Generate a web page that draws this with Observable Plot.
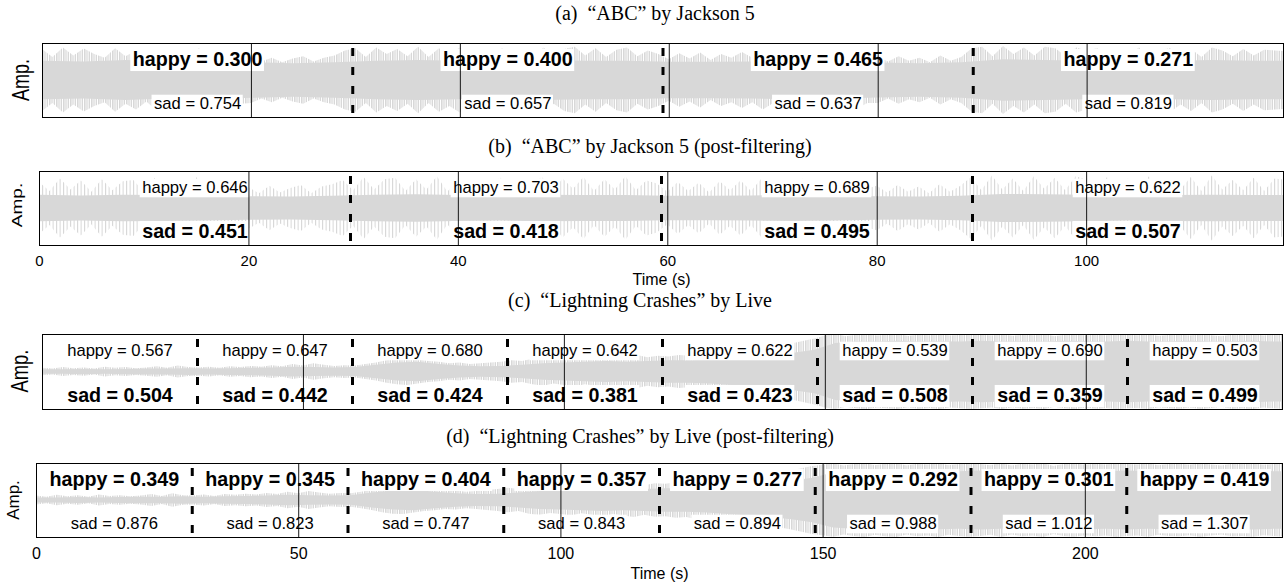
<!DOCTYPE html>
<html><head><meta charset="utf-8">
<script src="https://cdn.jsdelivr.net/npm/d3@7"></script>
<script src="https://cdn.jsdelivr.net/npm/@observablehq/plot@0.6"></script>
<style>
body{margin:0;background:#fff;}
#root{position:relative;width:1284px;height:582px;overflow:hidden;font-family:"Liberation Sans",Arial,sans-serif;background:#fff;}
.title{position:absolute;font-family:"Liberation Serif","Times New Roman",serif;font-size:20px;white-space:pre;line-height:1;transform:translate(-50%,-50%);color:#000;}
.amp{position:absolute;white-space:nowrap;line-height:1;color:#000;font-family:"Liberation Sans",Arial,sans-serif;}
.panel{position:absolute;left:0;}
#defs{position:absolute;left:0;top:0;width:0;height:0;}
</style></head><body>
<svg id="defs" width="0" height="0" aria-hidden="true">
  <defs>
    <pattern id="hatchDense" patternUnits="userSpaceOnUse" width="7" height="10">
      <rect x="0" y="0" width="1.6" height="10" fill="#d8d8d8"/>
      <rect x="2.4" y="0" width="1.2" height="10" fill="#d8d8d8"/>
      <rect x="4.6" y="0" width="1.4" height="10" fill="#d8d8d8"/>
    </pattern>
    <pattern id="hatchSparse" patternUnits="userSpaceOnUse" width="7" height="10">
      <rect x="0" y="0" width="1.2" height="10" fill="#d8d8d8"/>
      <rect x="3.6" y="0" width="1" height="10" fill="#d8d8d8"/>
    </pattern>
  </defs>
</svg>
<div id="root"></div>
<script>
// ---------- data ----------
const titles = [
  "(a)  \u201CABC\u201D by Jackson 5",
  "(b)  \u201CABC\u201D by Jackson 5 (post-filtering)",
  "(c)  \u201CLightning Crashes\u201D by Live",
  "(d)  \u201CLightning Crashes\u201D by Live (post-filtering)"
];
const abcDuration = 118.8;
const lcDuration = 237.6;
const abcBounds = [29.7, 59.4, 89.1];
const lcBounds = [29.7, 59.4, 89.1, 118.8, 148.5, 178.2, 207.9];
const abcTicks = [0, 20, 40, 60, 80, 100];
const lcTicks = [0, 50, 100, 150, 200];

const happyA = [0.300, 0.400, 0.465, 0.271];
const sadA   = [0.754, 0.657, 0.637, 0.819];
const happyB = [0.646, 0.703, 0.689, 0.622];
const sadB   = [0.451, 0.418, 0.495, 0.507];
const happyC = [0.567, 0.647, 0.680, 0.642, 0.622, 0.539, 0.690, 0.503];
const sadC   = [0.504, 0.442, 0.424, 0.381, 0.423, 0.508, 0.359, 0.499];
const happyD = [0.349, 0.345, 0.404, 0.357, 0.277, 0.292, 0.301, 0.419];
const sadD   = [0.876, 0.823, 0.747, 0.843, 0.894, 0.988, 1.012, 1.307];

// waveform envelopes (% of half-height), peaks every 1 s (ABC) / 2 s (LC), cores every 4 s
const peakA = [84,62,88,66,85,70,60,86,64, 80,58,84,66,82,60,86,68,58,84,64, 62,50,60,48,58,64,50,60,66,
  80,86,62,88,70, 84,64,90,62,86,70,88,60,84,62,86,70, 82,60,88,64,84,90,66,86,62,82,88,64,80,
  70,56,72,58,74,54,70,60, 76,60,80,62,78,64,82,66,60,80,64,78,62, 62,50,64,52,60,48,66,52,62,
  86,90,64,92,70,88,66,90,86,64,88, 80,86,64,84,66,88,62,82,86,66,84,62,88,80,64,84,66,82,80,78];
const coreA = [52,50,54,50,52,48,45,48,52,54,52,50,54,52,52,49,49,50,52,50,47,45,48,56,54,52,50,52,54,52,52];
const peakB = [70,46,80,50,74,44,78,48,72, 76,44,82,52,70,46,84,48,74,50,78, 56,40,60,42,54,62,40,58,64,
  76,48,84,50,78, 82,46,78,50,86,44,80,52,76,46,84,50, 78,48,86,44,80,52,84,46,78,50,86,48,74,
  66,44,70,46,68,42,72,48, 74,46,80,48,76,44,82,50,46,78,48,76,52, 60,42,62,44,58,40,64,44,60,
  84,48,88,50,80,46,86,52,82,48,86, 78,50,84,46,80,52,86,48,78,50,84,46,88,50,76,48,82,46,80,76];
const coreB = [36,34,36,35,34,32,31,33,36,37,35,34,36,35,35,33,33,34,35,34,32,31,33,38,37,36,34,35,36,35,35];
const peakC = [10,8,12,9,11,8,13,10,12,9,11,14,10,16,12, 11,13,10,14,12,15,13,17,14,20,16,22,18,15,17,
  16,20,24,30,34,36,32,28,26,22,24,20,22,24,26, 30,28,34,38,32,36,40,34,38,42,36,40,44,38,42,
  40,44,42,48,46,52,50,56,54,60,64,70,76,82,88, 96,100,94,98,100,96,98,100,95,99,97,100,96,98,100,
  98,96,100,95,99,97,100,94,98,100,96,99,97,100,98, 97,100,95,98,99,96,100,97,94,99,98,100,96,98,100];
const coreC = [6,6,7,6,7,8,8,9, 8,9,10,11,13,12,11,12, 18,24,26,20,16,14,15,18, 22,24,26,28,26,28,30,30,
  32,36,40,44,50,58,76,80, 80,82,80,81,80,82,80,81, 80,82,81,80,82,80,81,82, 80,81,82,80,80];
const peakD = [12,9,14,10,13,9,15,11,13,10,12,16,11,18,13, 12,15,11,16,14,17,15,19,16,22,18,24,20,17,19,
  18,22,27,33,37,38,34,30,28,24,26,22,24,27,30, 33,30,37,40,35,38,42,36,40,44,38,42,46,40,45,
  44,48,46,52,50,56,54,60,58,64,68,74,80,86,92, 95,99,93,97,100,94,98,100,93,98,96,100,94,97,99,
  97,94,100,93,98,96,100,92,97,99,95,98,96,100,97, 96,99,94,97,98,95,100,96,93,98,97,99,95,97,99];
const coreD = [7,7,8,7,8,9,9,10, 9,10,11,12,14,13,12,13, 20,26,28,22,18,16,17,20, 24,26,28,30,28,30,32,32,
  34,38,42,46,52,60,74,78, 78,80,78,79,78,80,78,79, 78,80,79,78,80,78,79,80, 78,79,80,78,78];

// ---------- drawing ----------
const W = 1284;
const fontBold = 19.7, fontNormal = 16.6;
const root = document.getElementById("root");
const ctx = document.createElement("canvas").getContext("2d");
function textWidth(s, bold, size) {
  ctx.font = `${bold ? "bold " : ""}${size}px "Liberation Sans"`;
  return ctx.measureText(s).width;
}

function makePanel(cfg) {
  const {top, marginLeft, marginRight, innerH, marginBottom, duration, bounds, grid, ticks, tickPadding, tickFont, timeDy,
         peak, peakStep, core, coreStep, happy, sad, boldKey, fringeFill, coreFill} = cfg;
  const marginTop = 10;
  const height = marginTop + innerH + marginBottom;
  const kx = (W - marginLeft - marginRight) / duration;
  const ky = innerH / 2;
  const peakData = peak.map((v, i) => ({t: i * peakStep, a: v / 100}));
  const coreData = core.map((v, i) => ({t: i * coreStep, a: v / 100}));
  const edges = [0, ...bounds, duration];
  const labels = [];
  happy.forEach((h, i) => {
    const cx = (edges[i] + edges[i + 1]) / 2;
    const hb = boldKey === "happy";
    labels.push({x: cx, y: 1 - 16 / ky, text: `happy = ${h.toFixed(3)}`, bold: hb});
    labels.push({x: cx, y: -1 + 14 / ky, text: `sad = ${sad[i].toFixed(3)}`, bold: !hb});
  });
  labels.forEach(d => {
    const size = d.bold ? fontBold : fontNormal;
    const w = textWidth(d.text, d.bold, size) + 4;
    const h = size * 1.12;
    const yc = d.y - 1 / ky;
    d.x1 = d.x - w / 2 / kx; d.x2 = d.x + w / 2 / kx;
    d.y1 = yc - h / 2 / ky; d.y2 = yc + h / 2 / ky;
  });
  const marks = [
    Plot.areaY(peakData, {x: "t", y1: d => -d.a, y2: d => d.a, fill: fringeFill, clip: true}),
    Plot.areaY(coreData, {x: "t", y1: d => -d.a, y2: d => d.a, fill: coreFill, clip: true}),
    Plot.rect(labels, {x1: "x1", x2: "x2", y1: "y1", y2: "y2", fill: "white"}),
    Plot.ruleX(grid, {x: d => d, stroke: "black", strokeWidth: 0.9}),
    Plot.ruleX(bounds, {x: d => d, stroke: "black", strokeWidth: 3, strokeDasharray: "8,11", strokeDashoffset: 14}),
    Plot.text(labels.filter(d => d.bold), {x: "x", y: "y", text: "text", fontWeight: "bold", fontSize: fontBold, fill: "black"}),
    Plot.text(labels.filter(d => !d.bold), {x: "x", y: "y", text: "text", fontSize: fontNormal, fill: "black"}),
    Plot.frame({stroke: "black", strokeWidth: 1})
  ];
  if (ticks) marks.push(Plot.text(["Time (s)"], {text: d => d, frameAnchor: "bottom", lineAnchor: "middle", dy: timeDy, fontSize: 16, fill: "black"}));
  const svg = Plot.plot({
    width: W, height, marginLeft, marginRight, marginTop, marginBottom,
    style: {fontFamily: '"Liberation Sans", Arial, sans-serif', fontSize: (tickFont || 16) + "px", background: "transparent", color: "black", overflow: "visible"},
    x: {domain: [0, duration], axis: ticks ? "bottom" : null, ticks: ticks || undefined, tickSize: 0, tickPadding: tickPadding || 3, label: null},
    y: {domain: [-1, 1], axis: null},
    marks
  });
  const div = document.createElement("div");
  div.className = "panel";
  div.style.top = top + "px";
  div.appendChild(svg);
  root.appendChild(div);
}

const gridABC = abcTicks.filter(t => t > 0);
const gridLC = lcTicks.filter(t => t > 0);

makePanel({top: 33, marginLeft: 42, marginRight: 1, innerH: 74, marginBottom: 5, duration: abcDuration, bounds: abcBounds,
  grid: gridABC, ticks: null, peak: peakA, peakStep: 1, core: coreA, coreStep: 4, happy: happyA, sad: sadA,
  boldKey: "happy", fringeFill: "url(#hatchDense)", coreFill: "#d8d8d8"});
makePanel({top: 161, marginLeft: 39, marginRight: 1, innerH: 74, marginBottom: 40, duration: abcDuration, bounds: abcBounds,
  grid: gridABC, ticks: abcTicks, tickPadding: 10, tickFont: 15, timeDy: 34, peak: peakB, peakStep: 1, core: coreB, coreStep: 4, happy: happyB, sad: sadB,
  boldKey: "sad", fringeFill: "url(#hatchSparse)", coreFill: "#d8d8d8"});
makePanel({top: 324, marginLeft: 42, marginRight: 2, innerH: 75, marginBottom: 5, duration: lcDuration, bounds: lcBounds,
  grid: gridLC, ticks: null, peak: peakC, peakStep: 2, core: coreC, coreStep: 4, happy: happyC, sad: sadC,
  boldKey: "sad", fringeFill: "url(#hatchDense)", coreFill: "#d8d8d8"});
makePanel({top: 453, marginLeft: 36, marginRight: 2, innerH: 74, marginBottom: 45, duration: lcDuration, bounds: lcBounds,
  grid: gridLC, ticks: lcTicks, tickPadding: 10, tickFont: 16, timeDy: 36, peak: peakD, peakStep: 2, core: coreD, coreStep: 4, happy: happyD, sad: sadD,
  boldKey: "happy", fringeFill: "url(#hatchDense)", coreFill: "#d8d8d8"});

// titles
const titlePos = [[655, 13], [650, 146], [640, 300], [640, 436]];
titles.forEach((t, i) => {
  const d = document.createElement("div");
  d.className = "title";
  d.textContent = t;
  d.style.left = titlePos[i][0] + "px";
  d.style.top = titlePos[i][1] + "px";
  root.appendChild(d);
});

// "Amp." y-labels
const ampSpec = [[21, 80, 18, 1.3], [17, 205, 19, 0.75], [21, 371, 18.4, 1.28], [14, 500, 17, 0.95]];
ampSpec.forEach(([x, y, size, sy]) => {
  const d = document.createElement("div");
  d.className = "amp";
  d.textContent = "Amp.";
  d.style.fontSize = size + "px";
  d.style.left = x + "px";
  d.style.top = y + "px";
  d.style.transform = `translate(-50%,-50%) rotate(-90deg) scale(1, ${sy})`;
  root.appendChild(d);
});
</script></body></html>
